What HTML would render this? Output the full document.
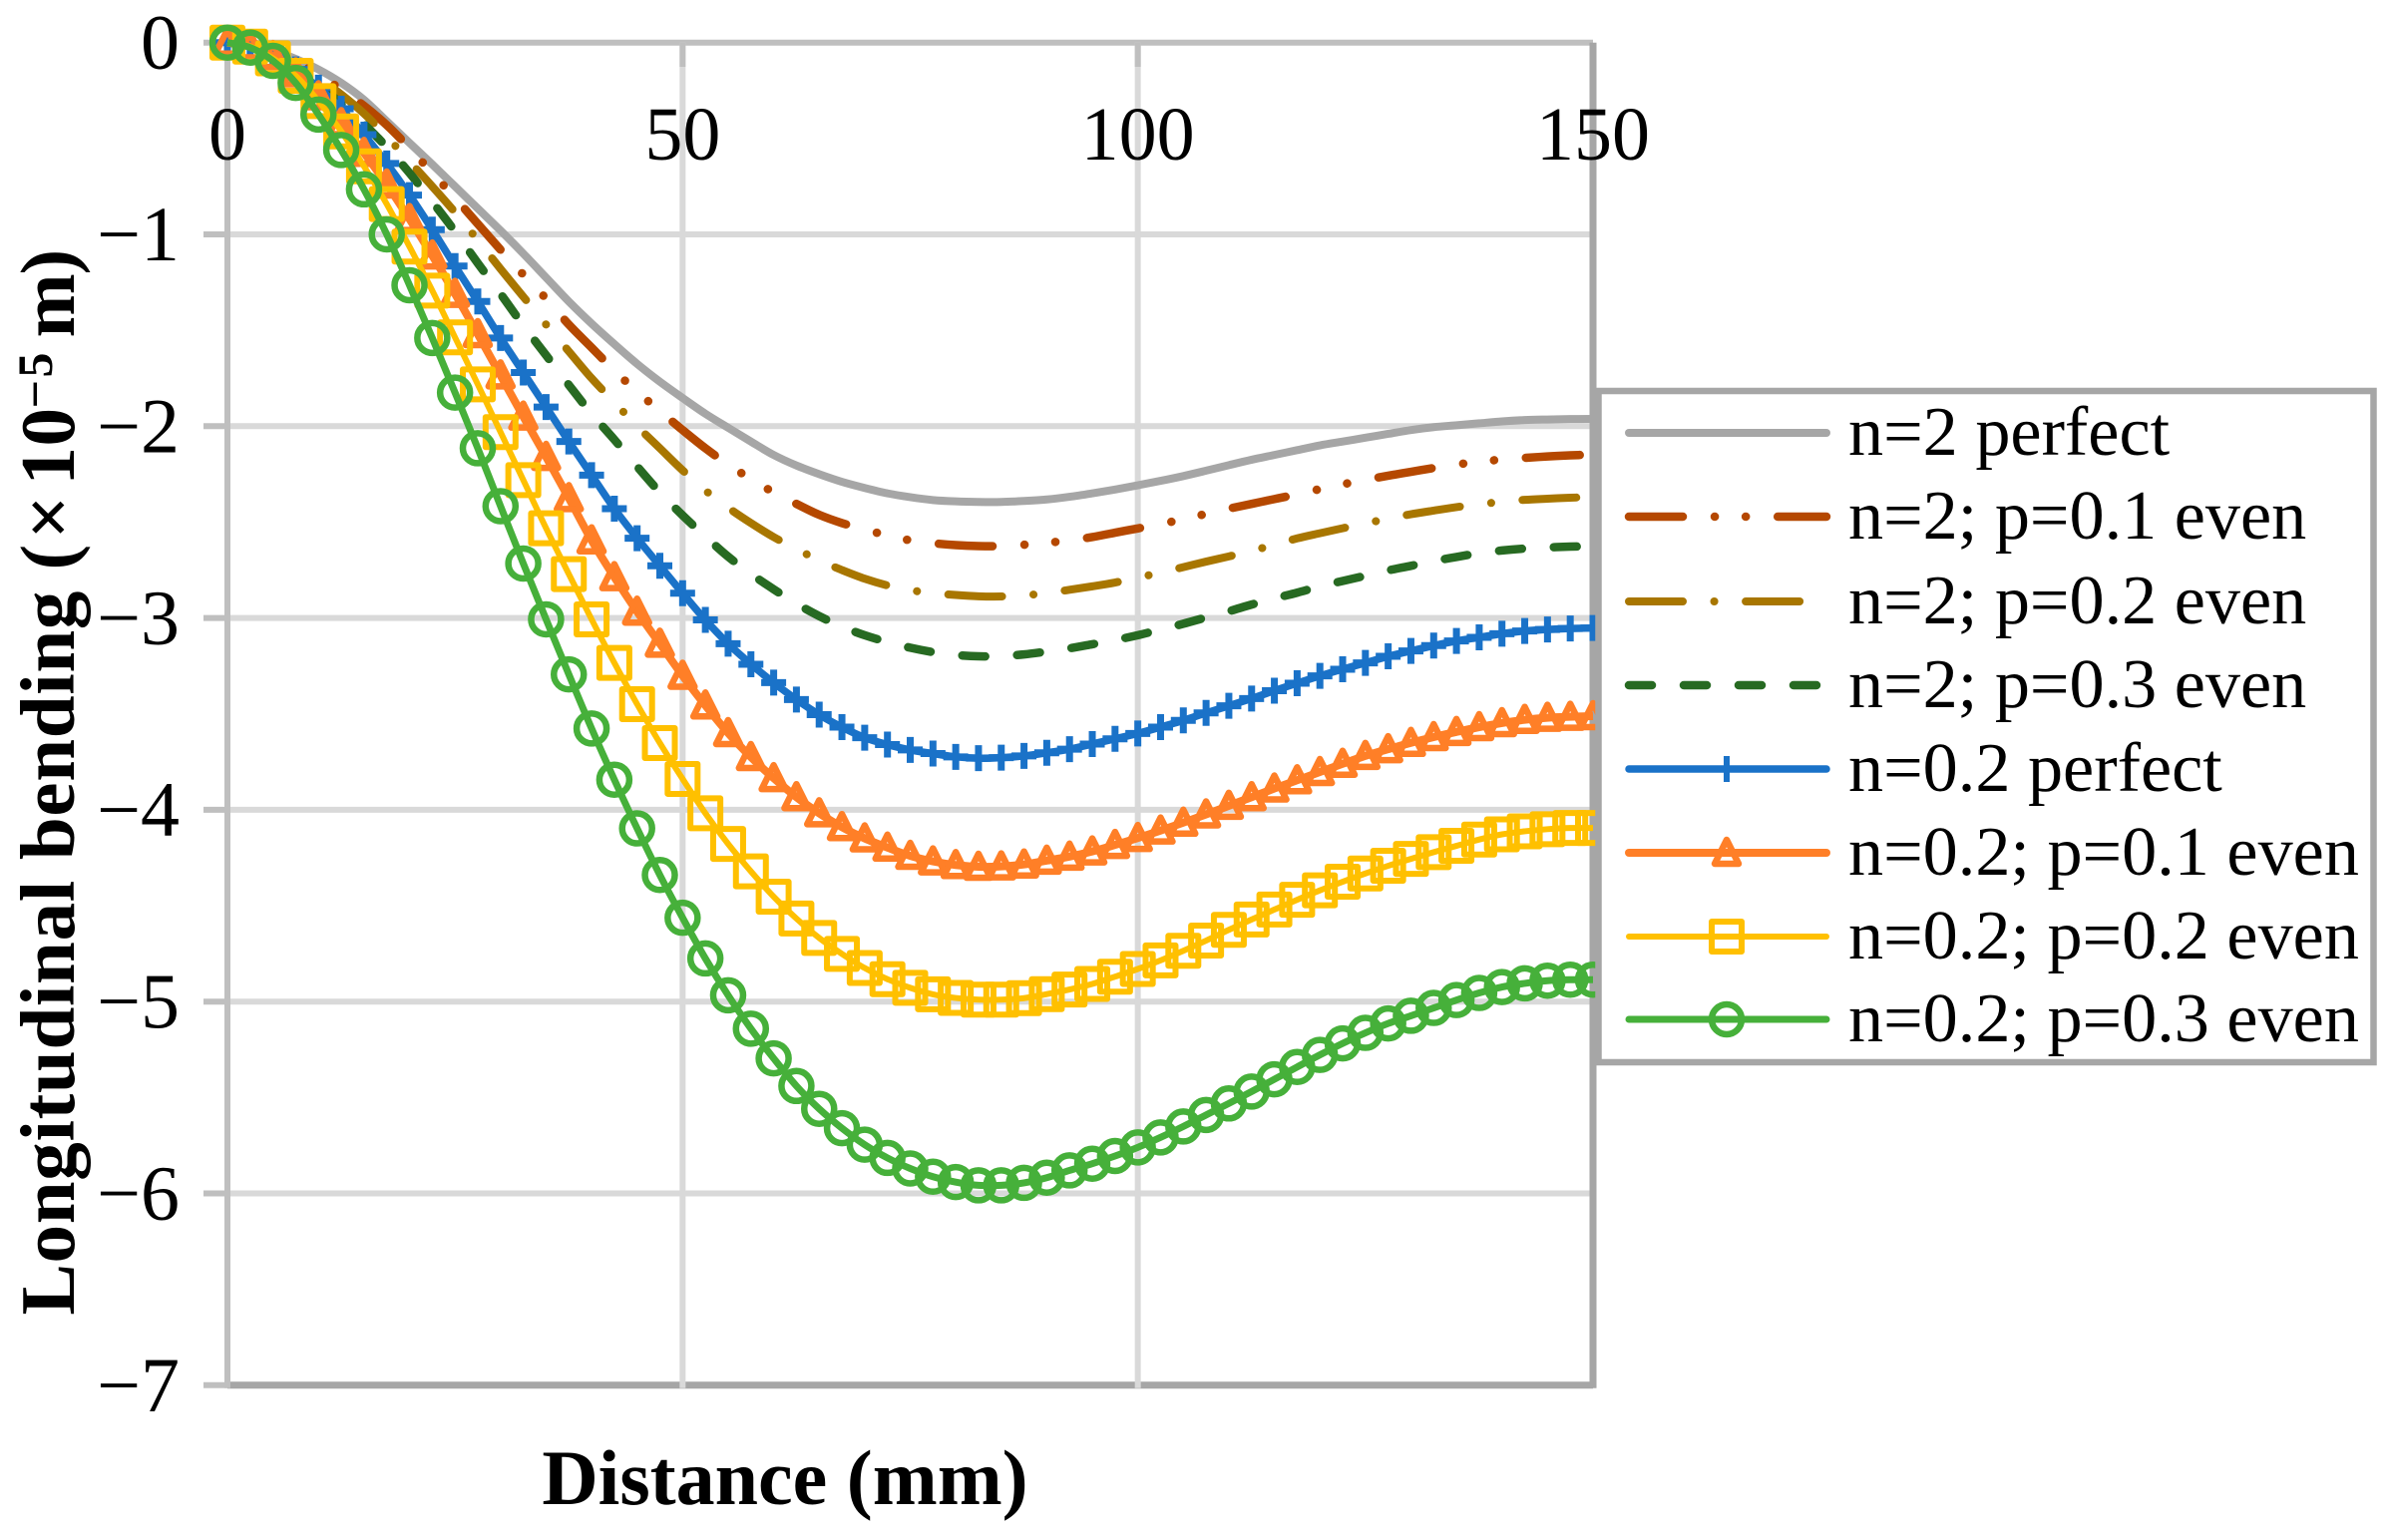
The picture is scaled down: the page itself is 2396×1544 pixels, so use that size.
<!DOCTYPE html>
<html lang="en">
<head>
<meta charset="utf-8">
<title>Longitudinal bending vs distance</title>
<style>
html,body{margin:0;padding:0;background:#fff;width:2396px;height:1544px;overflow:hidden}
svg{display:block}
text{font-family:"Liberation Serif",serif;fill:#000}
</style>
</head>
<body>
<svg id="chart" xmlns="http://www.w3.org/2000/svg" width="2396" height="1544" viewBox="0 0 2396 1544">
  <g id="grid"></g>
  <g id="ticks"></g>
  <g id="series"></g>
  <text x="787" y="1508" font-size="78" font-weight="bold" text-anchor="middle">Distance (mm)</text>
  <text transform="translate(74,1318.5) rotate(-90)" font-size="77" font-weight="bold"><tspan x="0" letter-spacing="0.7">Longitudinal bending</tspan><tspan x="747">(</tspan><tspan x="778">×</tspan><tspan x="832">1</tspan><tspan x="871">0</tspan><tspan x="909" dy="-22" font-size="50">−</tspan><tspan x="940" font-size="50">5</tspan><tspan x="980" dy="22">m</tspan><tspan x="1043">)</tspan></text>
  <g id="legend"></g>
</svg>
<script>
const xTicks = [0, 50, 100, 150];
const yTicks = [0, -1, -2, -3, -4, -5, -6, -7];
const distances = [0,2.5,5,7.5,10,12.5,15,17.5,20,22.5,25,27.5,30,32.5,35,37.5,40,42.5,45,47.5,50,52.5,55,57.5,60,62.5,65,67.5,70,72.5,75,77.5,80,82.5,85,87.5,90,92.5,95,97.5,100,102.5,105,107.5,110,112.5,115,117.5,120,122.5,125,127.5,130,132.5,135,137.5,140,142.5,145,147.5,150];
const n2Perfect = [0,-0.01,-0.04,-0.085,-0.14,-0.21,-0.298,-0.41,-0.523,-0.635,-0.75,-0.865,-0.98,-1.1,-1.225,-1.35,-1.465,-1.572,-1.675,-1.768,-1.853,-1.935,-2.008,-2.08,-2.15,-2.205,-2.25,-2.29,-2.322,-2.35,-2.37,-2.385,-2.392,-2.395,-2.395,-2.39,-2.382,-2.368,-2.35,-2.33,-2.308,-2.285,-2.26,-2.232,-2.203,-2.175,-2.15,-2.125,-2.1,-2.08,-2.06,-2.04,-2.02,-2.005,-1.995,-1.985,-1.975,-1.968,-1.965,-1.963,-1.962];
const n2P01 = [0,-0.012,-0.045,-0.1,-0.165,-0.245,-0.33,-0.43,-0.55,-0.68,-0.81,-0.945,-1.08,-1.21,-1.335,-1.47,-1.59,-1.71,-1.82,-1.92,-2.02,-2.115,-2.2,-2.275,-2.345,-2.405,-2.462,-2.505,-2.538,-2.57,-2.595,-2.61,-2.62,-2.625,-2.625,-2.618,-2.608,-2.595,-2.578,-2.555,-2.533,-2.51,-2.485,-2.457,-2.43,-2.405,-2.38,-2.355,-2.328,-2.303,-2.28,-2.258,-2.238,-2.218,-2.2,-2.185,-2.174,-2.165,-2.158,-2.152,-2.148];
const n2P02 = [0,-0.013,-0.05,-0.11,-0.185,-0.27,-0.37,-0.49,-0.62,-0.75,-0.885,-1.03,-1.18,-1.325,-1.47,-1.61,-1.75,-1.875,-2,-2.115,-2.23,-2.335,-2.425,-2.505,-2.578,-2.64,-2.7,-2.75,-2.795,-2.83,-2.855,-2.87,-2.88,-2.887,-2.888,-2.882,-2.87,-2.853,-2.835,-2.815,-2.79,-2.763,-2.735,-2.706,-2.679,-2.65,-2.618,-2.585,-2.558,-2.532,-2.507,-2.482,-2.459,-2.44,-2.422,-2.407,-2.394,-2.384,-2.378,-2.373,-2.369];
const n2P03 = [0,-0.017,-0.06,-0.125,-0.215,-0.32,-0.425,-0.545,-0.68,-0.83,-0.985,-1.15,-1.31,-1.475,-1.63,-1.785,-1.935,-2.07,-2.21,-2.345,-2.465,-2.575,-2.68,-2.77,-2.85,-2.925,-2.99,-3.045,-3.09,-3.125,-3.155,-3.178,-3.193,-3.2,-3.198,-3.19,-3.175,-3.158,-3.137,-3.115,-3.09,-3.06,-3.03,-2.997,-2.965,-2.93,-2.898,-2.868,-2.835,-2.807,-2.78,-2.752,-2.728,-2.703,-2.682,-2.662,-2.648,-2.638,-2.632,-2.628,-2.626];
const n02Perfect = [0,-0.018,-0.065,-0.14,-0.235,-0.345,-0.48,-0.63,-0.795,-0.975,-1.165,-1.35,-1.54,-1.72,-1.9,-2.08,-2.255,-2.43,-2.584,-2.728,-2.871,-3.01,-3.134,-3.241,-3.337,-3.425,-3.504,-3.569,-3.624,-3.66,-3.688,-3.707,-3.724,-3.731,-3.728,-3.719,-3.703,-3.684,-3.657,-3.63,-3.602,-3.569,-3.534,-3.495,-3.458,-3.42,-3.379,-3.34,-3.302,-3.267,-3.234,-3.2,-3.172,-3.144,-3.12,-3.101,-3.082,-3.068,-3.06,-3.055,-3.052];
const n02P01 = [0,-0.02,-0.07,-0.16,-0.28,-0.42,-0.575,-0.74,-0.92,-1.11,-1.31,-1.52,-1.735,-1.95,-2.16,-2.375,-2.595,-2.787,-2.967,-3.134,-3.301,-3.456,-3.6,-3.725,-3.835,-3.934,-4.018,-4.09,-4.149,-4.197,-4.24,-4.269,-4.288,-4.297,-4.295,-4.285,-4.265,-4.244,-4.217,-4.183,-4.147,-4.108,-4.067,-4.024,-3.979,-3.934,-3.889,-3.846,-3.803,-3.76,-3.719,-3.684,-3.651,-3.621,-3.594,-3.569,-3.548,-3.531,-3.52,-3.515,-3.512];
const n02P02 = [0,-0.021,-0.082,-0.173,-0.305,-0.463,-0.645,-0.842,-1.064,-1.293,-1.537,-1.782,-2.031,-2.281,-2.532,-2.771,-3.007,-3.234,-3.449,-3.652,-3.839,-4.018,-4.178,-4.321,-4.453,-4.567,-4.668,-4.751,-4.825,-4.883,-4.928,-4.962,-4.981,-4.99,-4.99,-4.982,-4.961,-4.937,-4.908,-4.87,-4.83,-4.785,-4.735,-4.682,-4.626,-4.572,-4.52,-4.469,-4.42,-4.375,-4.332,-4.292,-4.256,-4.221,-4.188,-4.155,-4.128,-4.112,-4.101,-4.095,-4.095];
const n02P03 = [0,-0.026,-0.095,-0.21,-0.375,-0.56,-0.765,-1,-1.265,-1.54,-1.825,-2.115,-2.417,-2.716,-3.007,-3.294,-3.576,-3.843,-4.097,-4.34,-4.563,-4.775,-4.967,-5.141,-5.296,-5.44,-5.559,-5.66,-5.746,-5.815,-5.87,-5.913,-5.941,-5.958,-5.958,-5.945,-5.918,-5.88,-5.845,-5.805,-5.76,-5.708,-5.651,-5.591,-5.531,-5.469,-5.405,-5.341,-5.278,-5.218,-5.163,-5.114,-5.074,-5.033,-4.992,-4.955,-4.924,-4.905,-4.891,-4.886,-4.886];
const seriesLabels = ["n=2 perfect","n=2; p=0.1 even","n=2; p=0.2 even","n=2; p=0.3 even","n=0.2 perfect","n=0.2; p=0.1 even","n=0.2; p=0.2 even","n=0.2; p=0.3 even"];
const seriesValues = [n2Perfect,n2P01,n2P02,n2P03,n02Perfect,n02P01,n02P02,n02P03];
const seriesKeys = ["n2-perfect","n2-p01","n2-p02","n2-p03","n02-perfect","n02-p01","n02-p02","n02-p03"];

const styles = [
  {color:"#a6a6a6",width:8,dash:"",marker:""},
  {color:"#b54800",width:8.5,dash:"54 32 0.1 31 0.1 32",marker:""},
  {color:"#a87600",width:8,dash:"54 31.5 0.1 31.5",marker:""},
  {color:"#276a22",width:8.5,dash:"23 32",marker:""},
  {color:"#1a72c8",width:7.5,dash:"",marker:"plus"},
  {color:"#ff7f27",width:8,dash:"",marker:"triangle"},
  {color:"#ffc000",width:6,dash:"",marker:"square"},
  {color:"#46b03a",width:7,dash:"",marker:"circle"}
];
const NS = "http://www.w3.org/2000/svg";
const X0 = 228, X1 = 1597, Y0 = 42.7, PER_UNIT = 192.3;
function xScale(v){return X0 + (v - xTicks[0]) * (X1 - X0) / (xTicks[xTicks.length-1] - xTicks[0]);}
function yScale(v){return Y0 - v * PER_UNIT;}
function make(tag, attrs, parent){
  const el = document.createElementNS(NS, tag);
  for (const k in attrs) el.setAttribute(k, attrs[k]);
  parent.appendChild(el);
  return el;
}
function smoothPath(xs, ys){
  let d = "M" + xs[0].toFixed(2) + " " + ys[0].toFixed(2);
  for (let i = 0; i < xs.length - 1; i++) {
    const p = Math.max(i - 1, 0), n = Math.min(i + 2, xs.length - 1);
    const c1x = xs[i] + (xs[i+1] - xs[p]) / 6, c1y = ys[i] + (ys[i+1] - ys[p]) / 6;
    const c2x = xs[i+1] - (xs[n] - xs[i]) / 6, c2y = ys[i+1] - (ys[n] - ys[i]) / 6;
    d += "C" + c1x.toFixed(2) + " " + c1y.toFixed(2) + " " + c2x.toFixed(2) + " " + c2y.toFixed(2) + " " + xs[i+1].toFixed(2) + " " + ys[i+1].toFixed(2);
  }
  return d;
}
function drawMarker(parent, kind, cx, cy, color){
  let el;
  if (kind === "plus") {
    el = make("path", {d:"M"+(cx-12.5)+" "+cy+"H"+(cx+12.5)+"M"+cx+" "+(cy-13)+"V"+(cy+13), fill:"none", stroke:color, "stroke-width":7}, parent);
  } else if (kind === "triangle") {
    el = make("path", {d:"M"+cx+" "+(cy-13)+"L"+(cx+12)+" "+(cy+11)+"H"+(cx-12)+"Z", fill:"none", stroke:color, "stroke-width":6.5, "stroke-linejoin":"round"}, parent);
  } else if (kind === "square") {
    el = make("rect", {x:cx-15, y:cy-15, width:30, height:30, fill:"none", stroke:color, "stroke-width":6, "stroke-linejoin":"round"}, parent);
  } else if (kind === "circle") {
    el = make("circle", {cx:cx, cy:cy, r:15, fill:"none", stroke:color, "stroke-width":6.5}, parent);
  }
  
  
}

const gridG = document.getElementById("grid");
const ticksG = document.getElementById("ticks");
yTicks.forEach(function(t){
  const y = yScale(t);
  const isBottom = t === yTicks[yTicks.length-1];
  const isTop = t === 0;
  const line = make("line", {x1:X0, x2:X1, y1:y, y2:y, stroke:isBottom?"#a6a6a6":(isTop?"#bfbfbf":"#d9d9d9"), "stroke-width":isBottom?7:6}, gridG);
  
  
  const tick = make("line", {x1:204, x2:X0, y1:y, y2:y, stroke:"#bfbfbf", "stroke-width":6}, gridG);
  
  
  const label = make("text", {x:180, y:y+26, "font-size":78, "text-anchor":"end"}, ticksG);
  label.textContent = (t < 0 ? "\u2212" : "") + Math.abs(t);
  
  
});
xTicks.forEach(function(t){
  const x = xScale(t);
  const isLast = t === xTicks[xTicks.length-1];
  const isFirst = t === 0;
  const line = make("line", {x1:x, x2:x, y1:Y0, y2:yScale(-7)+3, stroke:isLast?"#a6a6a6":(isFirst?"#bfbfbf":"#d9d9d9"), "stroke-width":isLast?7:6}, gridG);
  
  
  if (!isLast) {
    const tick = make("line", {x1:x, x2:x, y1:Y0, y2:67, stroke:"#bfbfbf", "stroke-width":6}, gridG);
    
    
  }
  const label = make("text", {x:x, y:160, "font-size":76, "text-anchor":"middle"}, ticksG);
  label.textContent = String(t);
  
  
});

const seriesG = document.getElementById("series");
seriesValues.forEach(function(vals, i){
  const st = styles[i];
  const g = make("g", {}, seriesG);
  
  
  const xs = vals.map(function(v, j){return xScale(distances[j]);});
  const ys = vals.map(function(v){return yScale(v);});
  const attrs = {d:smoothPath(xs, ys), fill:"none", stroke:st.color, "stroke-width":st.width, "stroke-linejoin":"round", "stroke-linecap":st.dash ? "round" : "butt"};
  if (st.dash) attrs["stroke-dasharray"] = st.dash;
  const line = make("path", attrs, g);
  
  
  if (st.marker) {
    vals.forEach(function(v, j){
      drawMarker(g, st.marker, xScale(distances[j]), yScale(v), st.color);
    });
  }
});

const legendG = document.getElementById("legend");
const box = make("rect", {x:1602.5, y:392, width:777, height:673, fill:"#fff", stroke:"#a6a6a6", "stroke-width":6.5}, legendG);


const legendRowY = [434, 518, 603, 687, 771, 855, 939, 1022];
seriesLabels.forEach(function(name, i){
  const st = styles[i];
  const y = legendRowY[i];
  const g = make("g", {}, legendG);
  
  
  const attrs = {x1:1633, x2:1831, y1:y, y2:y, stroke:st.color, "stroke-width":st.width, "stroke-linecap":"round"};
  if (st.dash) attrs["stroke-dasharray"] = st.dash;
  const sample = make("line", attrs, g);
  
  
  if (st.marker === "plus") {
    const bar = make("line", {x1:1731, x2:1731, y1:y-13, y2:y+13, stroke:st.color, "stroke-width":6}, g);
    
    
  } else if (st.marker) {
    drawMarker(g, st.marker, 1731, y, st.color);
  }
  const label = make("text", {x:1853, y:y+22, "font-size":70.2}, g);
  label.textContent = name;
  
  
});
</script>
</body>
</html>
